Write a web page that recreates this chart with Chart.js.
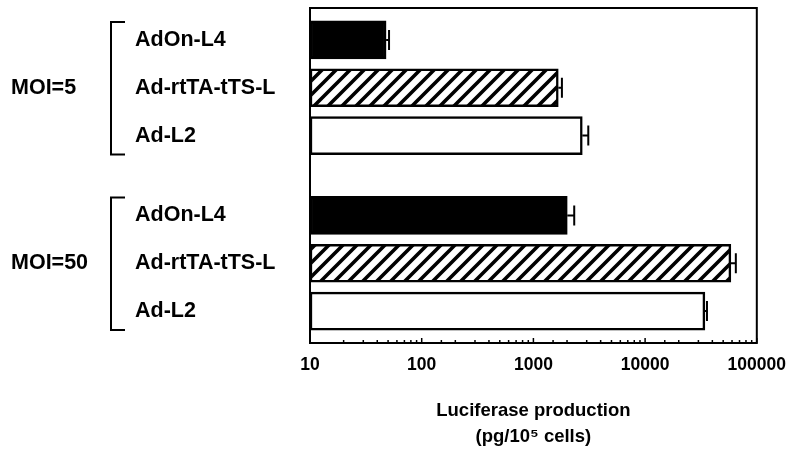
<!DOCTYPE html>
<html>
<head>
<meta charset="utf-8">
<script src="https://cdn.jsdelivr.net/npm/chart.js@4.4.1/dist/chart.umd.min.js"></script>
<style>
  html, body { margin: 0; padding: 0; background: #ffffff; }
  #wrap { position: relative; width: 798px; height: 457px; }
</style>
</head>
<body>
<div id="wrap"><canvas id="c"></canvas></div>
<script>
// ---- data ----
const categories = ['AdOn-L4', 'Ad-rtTA-tTS-L', 'Ad-L2'];
const groups = ['MOI=5', 'MOI=50'];
const moi5Values = [48, 1670, 2740];
const moi5Upper = [51, 1800, 3100];      // mean + error
const moi50Values = [2010, 58600, 34300];
const moi50Upper = [2320, 64900, 35800]; // mean + error
const xTickLabels = ['10', '100', '1000', '10000', '100000'];
const xTitle = ['Luciferase production', '(pg/10\u2075 cells)'];

// ---- layout of category slots (spacing only) ----
const LEAD = 2, STEP = 3, GROUP_GAP = 5, SLOTS = 22;
const groupValues = [moi5Values, moi50Values];
const groupUpper = [moi5Upper, moi50Upper];

const labels = new Array(SLOTS).fill('');
const values = new Array(SLOTS).fill(null);
const uppers = new Array(SLOTS).fill(null);
const kinds = new Array(SLOTS).fill(-1);
const groupSlots = [];
groups.forEach((g, gi) => {
  const slots = [];
  categories.forEach((c, ci) => {
    const s = LEAD + gi * (2 * STEP + GROUP_GAP) + ci * STEP;
    labels[s] = c;
    values[s] = groupValues[gi][ci];
    uppers[s] = groupUpper[gi][ci];
    kinds[s] = ci;
    slots.push(s);
  });
  groupSlots.push(slots);
});

// hatch pattern
function makeHatch() {
  const s = 14;
  const cv = document.createElement('canvas');
  cv.width = s; cv.height = s;
  const g = cv.getContext('2d');
  g.fillStyle = '#ffffff';
  g.fillRect(0, 0, s, s);
  g.strokeStyle = '#000000';
  g.lineWidth = 3.6;
  g.beginPath();
  g.moveTo(-2, s + 2); g.lineTo(s + 2, -2);
  g.moveTo(-2, 2); g.lineTo(2, -2);
  g.moveTo(s - 2, s + 2); g.lineTo(s + 2, s - 2);
  g.stroke();
  return document.getElementById('c').getContext('2d').createPattern(cv, 'repeat');
}
const hatch = makeHatch();
const fills = ['#000000', hatch, '#ffffff'];
const bg = kinds.map(k => k < 0 ? '#ffffff' : fills[k]);

const FONT = "'Liberation Sans', Arial, Helvetica, sans-serif";

const decorPlugin = {
  id: 'decor',
  afterDatasetsDraw(chart) {
    const ctx = chart.ctx;
    const xs = chart.scales.x;
    const meta = chart.getDatasetMeta(0);
    ctx.save();
    ctx.strokeStyle = '#000';
    ctx.lineWidth = 2;
    // error bars (positive side only)
    meta.data.forEach((el, i) => {
      if (uppers[i] == null) return;
      const xe = xs.getPixelForValue(uppers[i]);
      const y = el.y;
      ctx.beginPath();
      ctx.moveTo(el.x, y); ctx.lineTo(xe, y);
      ctx.moveTo(xe, y - 10); ctx.lineTo(xe, y + 10);
      ctx.stroke();
    });
    ctx.restore();
  },
  afterDraw(chart) {
    const ctx = chart.ctx;
    const a = chart.chartArea;
    const xs = chart.scales.x, ys = chart.scales.y;
    ctx.save();
    ctx.strokeStyle = '#000';
    // frame
    ctx.lineWidth = 2;
    ctx.strokeRect(a.left, a.top, a.right - a.left, a.bottom - a.top);
    // inward tick marks on the bottom edge
    ctx.lineWidth = 1.5;
    xs.ticks.forEach(t => {
      const x = xs.getPixelForValue(t.value);
      const e = Math.log10(t.value);
      const major = Math.abs(e - Math.round(e)) < 1e-6;
      ctx.beginPath();
      ctx.moveTo(x, a.bottom);
      ctx.lineTo(x, a.bottom - (major ? 5 : 3));
      ctx.stroke();
    });
    // group brackets and labels
    ctx.lineWidth = 2;
    ctx.fillStyle = '#000';
    ctx.font = 'bold 21.5px ' + FONT;
    ctx.textAlign = 'left';
    ctx.textBaseline = 'middle';
    groupSlots.forEach((slots, gi) => {
      const yTop = ys.getPixelForValue(slots[0]) - 18;
      const yBot = ys.getPixelForValue(slots[slots.length - 1]) + 19;
      const xb = 111;
      ctx.beginPath();
      ctx.moveTo(xb + 14, yTop); ctx.lineTo(xb, yTop);
      ctx.lineTo(xb, yBot); ctx.lineTo(xb + 14, yBot);
      ctx.stroke();
      const yMid = ys.getPixelForValue(slots[1]);
      ctx.fillText(groups[gi], 11, yMid);
    });
    ctx.restore();
  }
};

new Chart(document.getElementById('c'), {
  type: 'bar',
  data: {
    labels: labels,
    datasets: [{
      data: values,
      backgroundColor: bg,
      borderColor: '#000000',
      borderWidth: 2.5,
      borderSkipped: false,
      barThickness: 38
    }]
  },
  options: {
    indexAxis: 'y',
    responsive: true,
    maintainAspectRatio: false,
    animation: false,
    events: [],
    layout: { autoPadding: false, padding: { left: 135, right: 40, top: 8, bottom: 0 } },
    plugins: { legend: { display: false }, tooltip: { enabled: false } },
    scales: {
      x: {
        type: 'logarithmic',
        min: 10,
        max: 100000,
        grid: { display: false, drawTicks: false },
        border: { display: false },
        ticks: {
          autoSkip: false,
          maxRotation: 0,
          padding: 12,
          color: '#000',
          font: { family: FONT, size: 17.5, weight: 'bold' },
          callback: function (v) {
            const e = Math.log10(v);
            if (Math.abs(e - Math.round(e)) < 1e-6) {
              const idx = Math.round(e) - 1;
              return xTickLabels[idx] !== undefined ? xTickLabels[idx] : '';
            }
            return '';
          }
        },
        title: {
          display: true,
          text: xTitle,
          color: '#000',
          font: { family: FONT, size: 18.5, weight: 'bold', lineHeight: 26 / 18.5 },
          padding: { top: 10, bottom: 7 }
        }
      },
      y: {
        type: 'category',
        offset: false,
        grid: { display: false, drawTicks: false },
        border: { display: false },
        afterFit: function (scale) {
          scale.width = 175;
          scale.paddingTop = 0;
          scale.paddingBottom = 0;
        },
        ticks: {
          autoSkip: false,
          crossAlign: 'far',
          padding: 0,
          color: '#000',
          font: { family: FONT, size: 21.5, weight: 'bold' }
        }
      }
    }
  },
  plugins: [decorPlugin]
});
</script>
</body>
</html>
